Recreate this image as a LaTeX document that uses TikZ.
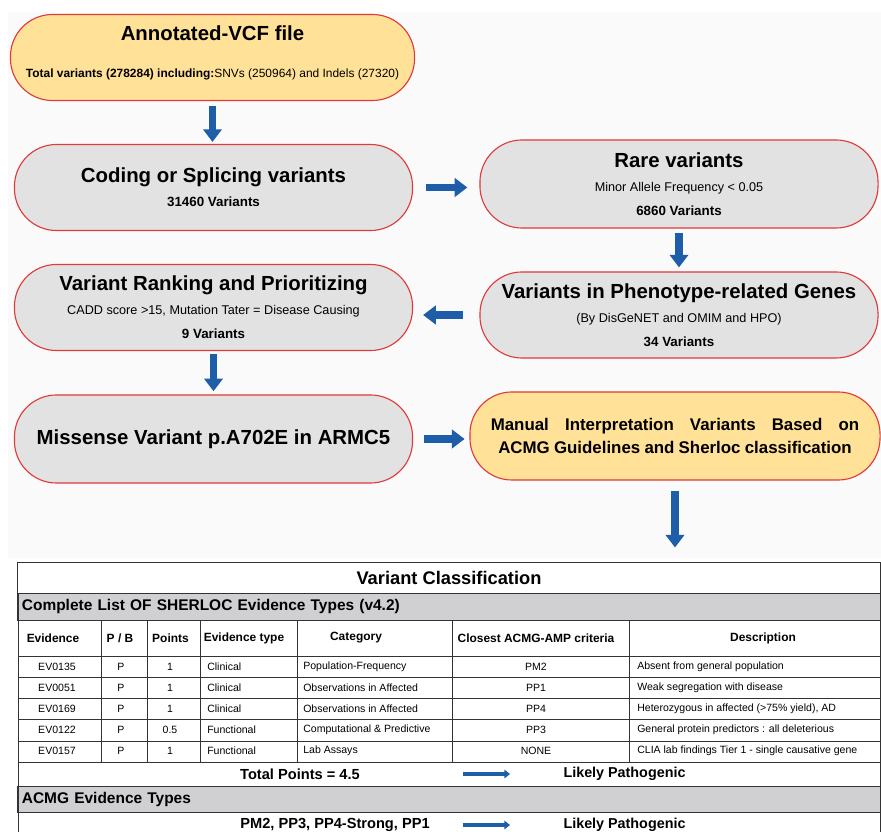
\documentclass[tikz,border=0pt]{standalone}
\usepackage{fontspec}
\setmainfont{Liberation Sans}
\usetikzlibrary{arrows.meta, positioning}

\definecolor{boxyellow}{HTML}{FFE297}
\definecolor{boxgray}{HTML}{E2E2E2}
\definecolor{boxred}{HTML}{E03A3A}
\definecolor{arrowblue}{HTML}{1E5EA8}
\definecolor{bargray}{HTML}{D0D0D2}
\definecolor{bggray}{HTML}{FAFAFA}
\definecolor{tabline}{HTML}{333333}

\newcommand{\ttlfont}{\fontsize{14.5}{17}\selectfont\bfseries}
\newcommand{\subfont}{\fontsize{9}{17}\selectfont}
\newcommand{\cntfont}{\fontsize{9.5}{17}\selectfont\bfseries}
\newcommand{\cellfont}{\fontsize{7.5}{9}\selectfont}
\newcommand{\headfont}{\fontsize{8.5}{10}\selectfont\bfseries}

\begin{document}
\begin{tikzpicture}[x=0.025cm, y=-0.025cm,
    every node/.style={font=\subfont, align=center},
    stage/.style={draw=boxred, line width=0.8pt, fill=boxgray,
        rounded corners=1.05cm, minimum width=9.95cm, minimum height=2.15cm},
    flow/.style={draw=arrowblue, line width=5pt,
        -{Triangle[width=13pt,length=9pt]}},
    thinflow/.style={draw=arrowblue, line width=2.8pt,
        -{Triangle[width=6pt,length=4pt]}},
    graybar/.style={draw=tabline, line width=0.7pt, fill=bargray,
        minimum width=21.55cm, text width=21.35cm, align=left,
        inner xsep=0.1cm, font=\fontsize{11}{13}\selectfont\bfseries},
    cell/.style={font=\cellfont, inner sep=0pt},
    head/.style={font=\headfont, inner sep=0pt}]

    \useasboundingbox (0,0) rectangle (881,832);
    \fill[bggray] (8,12) rectangle (881,558);

    % Flow boxes
    \node[stage, fill=boxyellow, minimum width=10.1cm, text depth=8pt] (vcf) at (212.5,57.5)
        {{\ttlfont Annotated-VCF file}\\[9pt]
         {\fontsize{8.5}{17}\selectfont\textbf{Total variants (278284) including:}SNVs (250964) and Indels (27320)}};
    \node[stage] (coding) at (213.5,187.5)
        {{\ttlfont Coding or Splicing variants}\\{\cntfont 31460 Variants}};
    \node[stage, minimum height=2.2cm] (rare) at (679,184)
        {{\ttlfont Rare variants}\\Minor Allele Frequency < 0.05\\{\cntfont 6860 Variants}};
    \node[stage] (pheno) at (679,315)
        {{\ttlfont Variants in Phenotype-related Genes}\\(By DisGeNET and OMIM and HPO)\\{\cntfont 34 Variants}};
    \node[stage] (rank) at (213.5,307.5)
        {{\ttlfont Variant Ranking and Prioritizing}\\CADD score >15, Mutation Tater = Disease Causing\\{\cntfont 9 Variants}};
    \node[stage, minimum height=2.2cm] (missense) at (213.5,439)
        {{\ttlfont Missense Variant p.A702E in ARMC5}};
    \node[stage, fill=boxyellow, minimum width=10.25cm, minimum height=2.2cm,
        text width=262pt] (manual) at (675,436)
        {{\fontsize{12}{16}\selectfont\bfseries Manual\hfill Interpretation\hfill Variants\hfill Based\hfill on\\
          ACMG Guidelines and Sherloc classification}};

    % Table frame
    \node[draw=tabline, line width=0.7pt, fill=white, minimum width=21.55cm, minimum height=0.775cm,
        font=\fontsize{13}{15}\selectfont\bfseries] (vclass) at (449,577.5) {Variant Classification};
    \node[graybar, minimum height=0.675cm] (sherloc) at (449,606.5)
        {Complete List OF SHERLOC Evidence Types (v4.2)};
    \node[graybar, minimum height=0.65cm] (acmgtypes) at (449,799)
        {ACMG Evidence Types};

    \begin{scope}[draw=tabline, line width=0.7pt]
        \draw (18,593) -- (18,832);
        \draw (880,593) -- (880,832);
        \foreach \y in {656,677,698,719,741,762}
            \draw (18,\y) -- (880,\y);
        \foreach \x in {101,147,200,297,452,629}
            \draw (\x,620) -- (\x,762);
    \end{scope}

    % Column headers
    \foreach \x/\txt [count=\c] in {53/Evidence, 120/{P / B}, 170.5/Points, 244/Evidence type,
            356/Category, 536/Closest ACMG-AMP criteria, 763/Description}
        \node[head] (head\c) at (\x,638) {\txt};

    % Evidence rows
    \foreach \y/\ev/\pts/\typ/\cat/\acmg/\desc [count=\r] in {
            667/EV0135/1/Clinical/Population-Frequency/PM2/Absent from general population,
            688/EV0051/1/Clinical/Observations in Affected/PP1/Weak segregation with disease,
            709/EV0169/1/Clinical/Observations in Affected/PP4/{Heterozygous in affected (>75\% yield), AD},
            730/EV0122/0.5/Functional/Computational \& Predictive/PP3/General protein predictors : all deleterious,
            751/EV0157/1/Functional/Lab Assays/NONE/CLIA lab findings Tier 1 - single causative gene} {
        \node[cell] (ev\r) at (57,\y) {\ev};
        \node[cell] (pb\r) at (121,\y) {P};
        \node[cell] (pts\r) at (170,\y) {\pts};
        \node[cell, anchor=west] (typ\r) at (207,\y) {\typ};
        \node[cell, anchor=west] (cat\r) at (303,\y) {\cat};
        \node[cell] (acmg\r) at (536,\y) {\acmg};
        \node[cell, anchor=west] (desc\r) at (637,\y) {\desc};
    }

    % Results
    \node[inner sep=0pt, font=\fontsize{10.4}{12}\selectfont\bfseries] (total) at (300,774) {Total Points = 4.5};
    \node[inner sep=0pt, font=\fontsize{10.2}{12}\selectfont\bfseries] (lp1) at (624.5,774) {Likely Pathogenic};
    \node[inner sep=0pt, font=\fontsize{10.4}{12}\selectfont\bfseries] (codes) at (335,825) {PM2, PP3, PP4-Strong, PP1};
    \node[inner sep=0pt, font=\fontsize{10.2}{12}\selectfont\bfseries] (lp2) at (624.5,825) {Likely Pathogenic};

    % Arrows
    \draw[flow, shorten <=0.12cm, shorten >=0.05cm] (vcf.south) -- (vcf.south |- coding.north);
    \draw[flow, shorten <=0.33cm, shorten >=0.3cm] (coding.east) -- (coding.east -| rare.west);
    \draw[flow, shorten <=0.1cm, shorten >=0.1cm] (rare.south) -- (rare.south |- pheno.north);
    \draw[flow, shorten <=0.42cm, shorten >=0.25cm] (pheno.west) -- (pheno.west -| rank.east);
    \draw[flow, shorten <=0.08cm, shorten >=0.08cm] (rank.south) -- (rank.south |- missense.north);
    \draw[flow, shorten <=0.28cm, shorten >=0.12cm] (missense.east) -- (missense.east -| manual.west);
    \draw[flow, shorten <=0.25cm, shorten >=0.35cm] (manual.south) -- (manual.south |- vclass.north);
    \draw[thinflow, shorten <=2.58cm, shorten >=1.33cm] (total.east) -- (lp1.west);
    \draw[thinflow, shorten <=0.83cm, shorten >=1.33cm] (codes.east) -- (lp2.west);

\end{tikzpicture}
\end{document}
